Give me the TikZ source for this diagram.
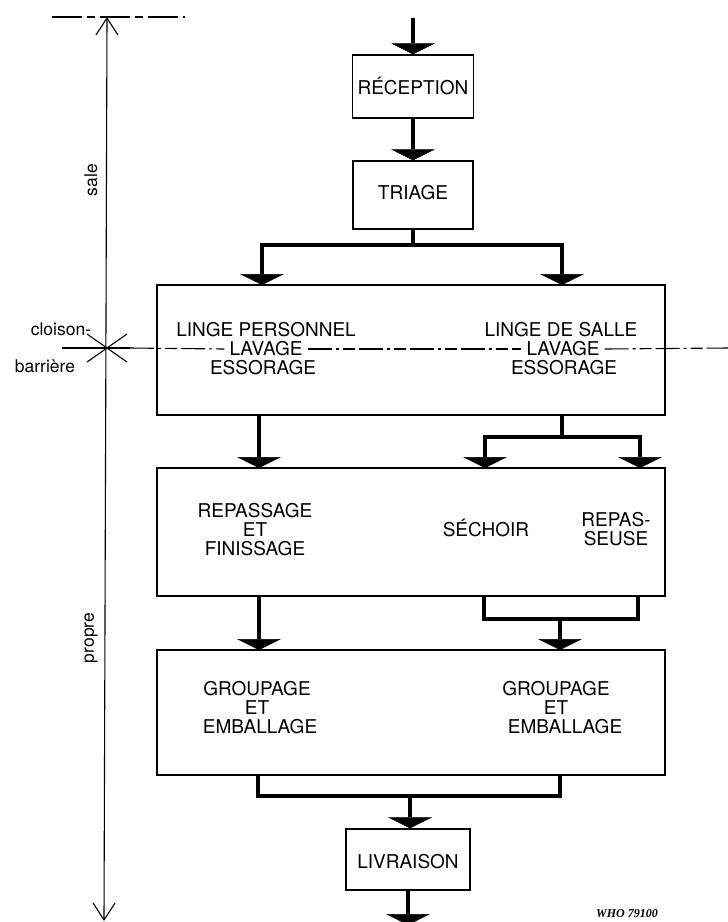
\documentclass[tikz,border=0pt]{standalone}
\usepackage{fontspec}
\setmainfont{TeX Gyre Heros}
\newfontfamily\refnofont{Liberation Serif}
\usetikzlibrary{arrows.meta,calc}

\begin{document}
\begin{tikzpicture}[x=1pt,y=-1pt,
  box/.style={draw, line width=1.3pt, inner sep=0pt},
  txt/.style={font=\fontsize{19}{20}\selectfont, inner sep=0pt, text height=13.5pt, text depth=0pt},
  side/.style={font=\fontsize{17.5}{18}\selectfont, inner sep=0pt},
  flow/.style={line width=4pt, -{Triangle[width=44pt,length=11pt,line width=0.5pt]}},
  bar/.style={line width=4pt},
  thin/.style={line width=1.1pt},
  barb/.style={line width=1.1pt, {Straight Barb[length=17pt,width=22pt]}-{Straight Barb[length=17pt,width=22pt]}},
  wall/.style={line width=1.1pt, dash pattern=on 24pt off 4pt on 3pt off 4pt on 12pt off 4pt},
]
\useasboundingbox (0,0) rectangle (728,922);

% ---------- process boxes ----------
\node[box, minimum width=121pt, minimum height=63pt] (rec) at (413,86.5) {};
\node[txt] (rect) at (413,88) {RÉCEPTION};
\node[box, minimum width=120pt, minimum height=68pt] (tri) at (413,195) {};
\node[txt] (trit) at (413,193) {TRIAGE};
\node[box, minimum width=508pt, minimum height=130pt] (b1) at (411,350) {};
\node[box, minimum width=508pt, minimum height=128pt] (b2) at (411,532) {};
\node[box, minimum width=508pt, minimum height=125pt] (b3) at (411,712.5) {};
\node[box, minimum width=124pt, minimum height=61pt] (liv) at (408,859.5) {};
\node[txt] (livt) at (408,862) {LIVRAISON};

% ---------- washing block ----------
\node[txt] (lp1) at (266,330) {LINGE PERSONNEL};
\node[txt, inner xsep=5pt] (lp2) at (266,349) {LAVAGE};
\node[txt] (lp3) at (263,368) {ESSORAGE};
\node[txt] (ls1) at (561,330) {LINGE DE SALLE};
\node[txt, inner xsep=5pt] (ls2) at (563,349) {LAVAGE};
\node[txt] (ls3) at (564,368) {ESSORAGE};

% ---------- ironing / drying block ----------
\node[txt] (r1) at (255,511) {REPASSAGE};
\node[txt] (r2) at (255,530) {ET};
\node[txt] (r3) at (255,549) {FINISSAGE};
\node[txt] (sech) at (486,530) {SÉCHOIR};
\node[txt] (rp1) at (616,520) {REPAS-};
\node[txt] (rp2) at (616,539) {SEUSE};

% ---------- packing block ----------
\node[txt] (g1) at (257,689) {GROUPAGE};
\node[txt] (g2) at (257,708) {ET};
\node[txt] (g3) at (260,727) {EMBALLAGE};
\node[txt] (h1) at (556,689) {GROUPAGE};
\node[txt] (h2) at (556,708) {ET};
\node[txt] (h3) at (565,727) {EMBALLAGE};

% ---------- flow connectors ----------
\coordinate (in) at (413,18);
\draw[flow] (in) -- (rec.north);
\draw[flow] (rec.south) -- (tri.north);

\coordinate (j1) at (413,245);
\coordinate (b1L) at (262,285);
\coordinate (b1R) at (562,285);
\draw[bar] (tri.south) -- (j1);
\draw[flow] (j1) -| (b1L);
\draw[flow] (j1) -| (b1R);

\coordinate (o1L) at (259,415);
\coordinate (b2L) at (259,468);
\draw[flow] (o1L) -- (b2L);
\coordinate (o1R) at (562,415);
\coordinate (j2) at (562,437);
\coordinate (b2a) at (485,468);
\coordinate (b2b) at (640,468);
\draw[bar] (o1R) -- (j2);
\draw[flow] (j2) -| (b2a);
\draw[flow] (j2) -| (b2b);

\coordinate (o2L) at (259,596);
\coordinate (b3L) at (259,650);
\draw[flow] (o2L) -- (b3L);
\coordinate (o2a) at (484,596);
\coordinate (o2b) at (638,596);
\coordinate (j3) at (560,619);
\coordinate (b3R) at (560,650);
\draw[bar] (o2a) |- (o2b |- j3) -- (o2b);
\draw[flow] (j3) -- (b3R);

\coordinate (o3a) at (258,775);
\coordinate (o3b) at (560,775);
\coordinate (j4) at (410,796);
\draw[bar] (o3a) |- (o3b |- j4) -- (o3b);
\draw[flow] (j4) -- (liv.north -| j4);

\coordinate (out) at (408,925);
\draw[flow] (liv.south) -- (out);

% ---------- dirty / clean dimension ----------
\coordinate (dtop) at (107,17);
\coordinate (dbot) at (104,921);
\draw[thin, dash pattern=on 30pt off 5pt on 8pt off 5pt] (52,17) -- (185,17);
\draw[barb] (dtop) -- (dbot);

\node[side, rotate=90] (sale) at (91,180) {sale};
\node[side, rotate=90] (propre) at (91,638) {propre};

% ---------- partition wall ----------
\coordinate (xc) at (107,348);
\draw[thin] ($(xc)+(-20,-14)$) -- ($(xc)+(20,14)$);
\draw[thin] ($(xc)+(-20,14)$) -- ($(xc)+(20,-14)$);
\coordinate (wl) at (62,348);
\coordinate (ws) at (130,348);
\coordinate (wr) at (728,348);
\draw[thin] (wl) -- (ws);
\draw[wall] (ws) -- (lp2.west);
\draw[wall] (lp2.east) -- (ls2.west);
\draw[wall] (ls2.east) -- (wr);

\node[side] (clo) at (61,329) {cloison-};
\node[side] (bar) at (45,366) {barrière};

\node[font=\refnofont\bfseries\itshape\fontsize{12}{12}\selectfont, inner sep=0pt] (ref) at (627,914) {WHO 79100};
\end{tikzpicture}
\end{document}
